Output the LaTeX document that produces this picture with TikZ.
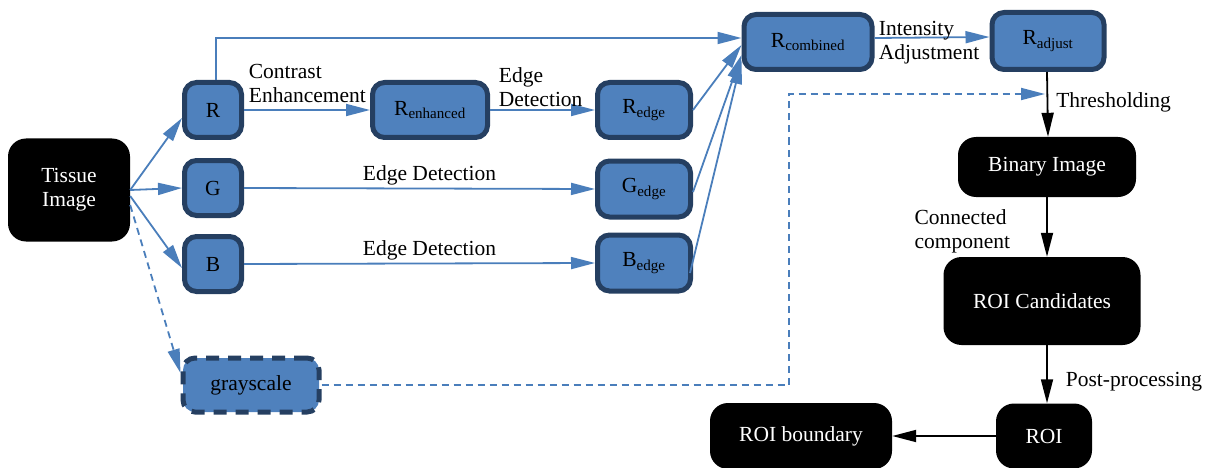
\documentclass[tikz,border=0pt]{standalone}
\usepackage{fontspec}
\setmainfont{Liberation Serif}
\usetikzlibrary{arrows.meta}
\definecolor{chanfill}{HTML}{4F81BD}
\definecolor{chanline}{HTML}{253F61}
\definecolor{flowblue}{HTML}{4A7EBB}

\begin{document}
\begin{tikzpicture}[x=1pt,y=-1pt,
  every node/.style={inner sep=0pt,font=\fontsize{21.5}{24}\selectfont},
  chan/.style={draw=chanline,fill=chanfill,line width=5pt,rounded corners=12pt},
  blackbox/.style={fill=black,text=white,rounded corners=18pt},
  flow/.style={draw=flowblue,line width=1.8pt,-{Triangle[length=24pt,width=12pt]}},
  step arrow/.style={draw=black,line width=1.8pt,-{Triangle[length=24pt,width=12pt]}},
  lbl/.style={align=left}]
\useasboundingbox (0,0) rectangle (1207,468);
% nodes
\node[blackbox,minimum width=122pt,minimum height=103pt,align=center] (tissue) at (69,190) {Tissue\\Image};
\node[chan,minimum width=57pt,minimum height=55pt] (R) at (213,110) {R};
\node[chan,minimum width=57pt,minimum height=55pt] (G) at (213,188) {G};
\node[chan,minimum width=57pt,minimum height=55pt] (B) at (213,264) {B};
\node[chan,dash pattern=on 13pt off 9pt,minimum width=136pt,minimum height=54pt] (gray) at (251,385) {grayscale};
\node[chan,minimum width=115pt,minimum height=55pt] (Renh) at (430,110) {R\textsubscript{enhanced}};
\node[chan,minimum width=93pt,minimum height=55pt] (Redge) at (644,110) {R\textsubscript{edge}};
\node[chan,minimum width=93pt,minimum height=56pt] (Gedge) at (644,189) {G\textsubscript{edge}};
\node[chan,minimum width=93pt,minimum height=56pt] (Bedge) at (644,263) {B\textsubscript{edge}};
\node[chan,minimum width=128pt,minimum height=55pt] (Rcomb) at (808,42) {R\textsubscript{combined}};
\node[chan,minimum width=112pt,minimum height=57pt] (Radj) at (1048,41) {R\textsubscript{adjust}};
\node[blackbox,minimum width=178pt,minimum height=60pt] (binary) at (1047,167) {Binary Image};
\node[blackbox,minimum width=197pt,minimum height=88pt] (cand) at (1042,301) {ROI Candidates};
\node[blackbox,minimum width=96pt,minimum height=65pt] (roi) at (1044,436) {ROI};
\node[blackbox,minimum width=182pt,minimum height=66pt] (bound) at (801,436) {ROI boundary};
\coordinate (thr) at (1045,94);
% colour channels
\draw[flow] (tissue.east) -- ([yshift=-8pt]R.west);
\draw[flow] (tissue.east) -- (G.west);
\draw[flow] ([yshift=-6pt]tissue.east) -- ([yshift=-4pt]B.west);
\draw[flow,dash pattern=on 7pt off 5pt] ([yshift=-15pt]tissue.east) -- ([yshift=12pt]gray.west);
% edge detection
\draw[flow] (R.east) -- node[lbl,pos=0,anchor=south west,xshift=4pt,yshift=6pt] {Contrast\\Enhancement} (Renh.west);
\draw[flow] (Renh.east) -- node[lbl,pos=0,anchor=south west,xshift=8pt,yshift=2pt] {Edge\\Detection} (Redge.west);
\draw[flow] (G.east) -- node[above=2pt,xshift=10pt] {Edge Detection} (Gedge.west);
\draw[flow] (B.east) -- node[above=2pt,xshift=10pt] {Edge Detection} (Bedge.west);
% combine
\draw[flow] ([xshift=3pt]R.north) |- ([yshift=4pt]Rcomb.west);
\draw[flow] (Redge.east) -- ([yshift=-3pt]Rcomb.west);
\draw[flow] ([yshift=-3pt]Gedge.east) -- ([yshift=-13pt]Rcomb.west);
\draw[flow] ([xshift=-3pt,yshift=-10pt]Bedge.east) -- ([yshift=-18pt]Rcomb.west);
\draw[flow] ([yshift=4pt]Rcomb.east) -- node[lbl,anchor=west,xshift=-54pt,yshift=-5pt] {Intensity\\Adjustment} ([yshift=4pt]Radj.west);
% thresholding
\draw[flow,dash pattern=on 7pt off 5pt] (gray.east) -| (789,94) -- (thr);
\draw[step arrow] ([xshift=-1pt]Radj.south) -- node[pos=0.4,anchor=west,xshift=8pt,yshift=-4pt] {Thresholding} ([xshift=1pt]binary.north);
\draw[step arrow] (binary.south) -- node[lbl,anchor=east,xshift=-36pt,yshift=-4pt] {Connected\\component} (binary.south |- cand.north);
\draw[step arrow] (binary.south |- cand.south) -- node[anchor=west,xshift=18pt,yshift=-7pt] {Post-processing} (binary.south |- roi.north);
\draw[step arrow] (roi.west) -- (bound.east);
\end{tikzpicture}
\end{document}
